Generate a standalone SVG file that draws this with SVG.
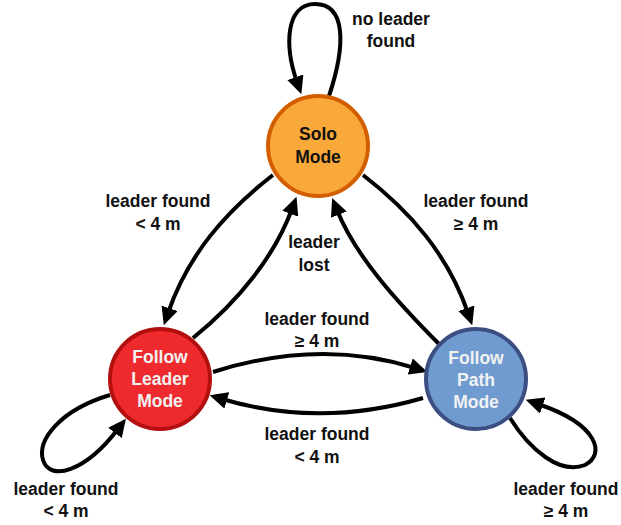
<svg xmlns="http://www.w3.org/2000/svg" width="621" height="525" viewBox="0 0 621 525">
<style>
.lbl{font-family:"Liberation Sans",Arial,sans-serif;font-weight:bold;font-size:17.5px;fill:#111;text-anchor:middle}
.ntxt{font-family:"Liberation Sans",Arial,sans-serif;font-weight:bold;font-size:17.5px;text-anchor:middle}
.edge{fill:none;stroke:#000;stroke-width:4;marker-end:url(#ah)}
</style>
<defs>
<marker id="ah" markerUnits="userSpaceOnUse" markerWidth="20" markerHeight="18" refX="5" refY="8.5" orient="auto">
<path d="M0,0 L18,8.5 L0,17 Z" fill="#000"/>
</marker>
</defs>
<rect width="621" height="525" fill="#fff"/>
<g id="connectors">
<path class="edge" d="M329,96 C346,45 346,4 315,4 C286,4 284,45 297,82"/>
<path class="edge" d="M273,175 C225,212 188,255 168,313"/>
<path class="edge" d="M193,338 C240,300 275,255 292,209"/>
<path class="edge" d="M363,175 C411,212 448,255 468,313"/>
<path class="edge" d="M440,345 C395,300 355,255 337,210"/>
<path class="edge" d="M213,372 Q320,338 415,368"/>
<path class="edge" d="M423,398 Q320,428 222,399"/>
<path class="edge" d="M110,395 C60,410 37,440 43,460 C50,482 85,472 118,429"/>
<path class="edge" d="M510,418 C530,450 560,475 585,465 C605,455 600,425 538,404"/>
</g>
<g id="solo">
<circle cx="318" cy="146" r="50" fill="#F9A93A" stroke="#D35E00" stroke-width="4"/>
<text class="ntxt" x="318" y="140" fill="#111">Solo</text>
<text class="ntxt" x="318" y="163" fill="#111">Mode</text>
</g>
<g id="follow-leader">
<circle cx="160" cy="379" r="50" fill="#EE2A2F" stroke="#B40F0F" stroke-width="4"/>
<text class="ntxt" x="160" y="363" fill="#F2F2F2">Follow</text>
<text class="ntxt" x="160" y="385" fill="#F2F2F2">Leader</text>
<text class="ntxt" x="160" y="407" fill="#F2F2F2">Mode</text>
</g>
<g id="follow-path">
<circle cx="476" cy="379" r="50" fill="#6F9BD0" stroke="#3D4E82" stroke-width="4"/>
<text class="ntxt" x="476" y="364" fill="#F2F2F2">Follow</text>
<text class="ntxt" x="476" y="386" fill="#F2F2F2">Path</text>
<text class="ntxt" x="476" y="408" fill="#F2F2F2">Mode</text>
</g>
<g id="labels">
<text class="lbl" x="391" y="25">no leader</text>
<text class="lbl" x="391" y="47">found</text>
<text class="lbl" x="158" y="207">leader found</text>
<text class="lbl" x="158" y="230">&lt; 4 m</text>
<text class="lbl" x="476" y="207">leader found</text>
<text class="lbl" x="476" y="230">≥ 4 m</text>
<text class="lbl" x="314" y="248">leader</text>
<text class="lbl" x="314" y="271">lost</text>
<text class="lbl" x="317" y="325">leader found</text>
<text class="lbl" x="317" y="347">≥ 4 m</text>
<text class="lbl" x="317" y="440">leader found</text>
<text class="lbl" x="317" y="463">&lt; 4 m</text>
<text class="lbl" x="66" y="495">leader found</text>
<text class="lbl" x="66" y="517">&lt; 4 m</text>
<text class="lbl" x="566" y="495">leader found</text>
<text class="lbl" x="566" y="517">≥ 4 m</text>
</g>
</svg>
